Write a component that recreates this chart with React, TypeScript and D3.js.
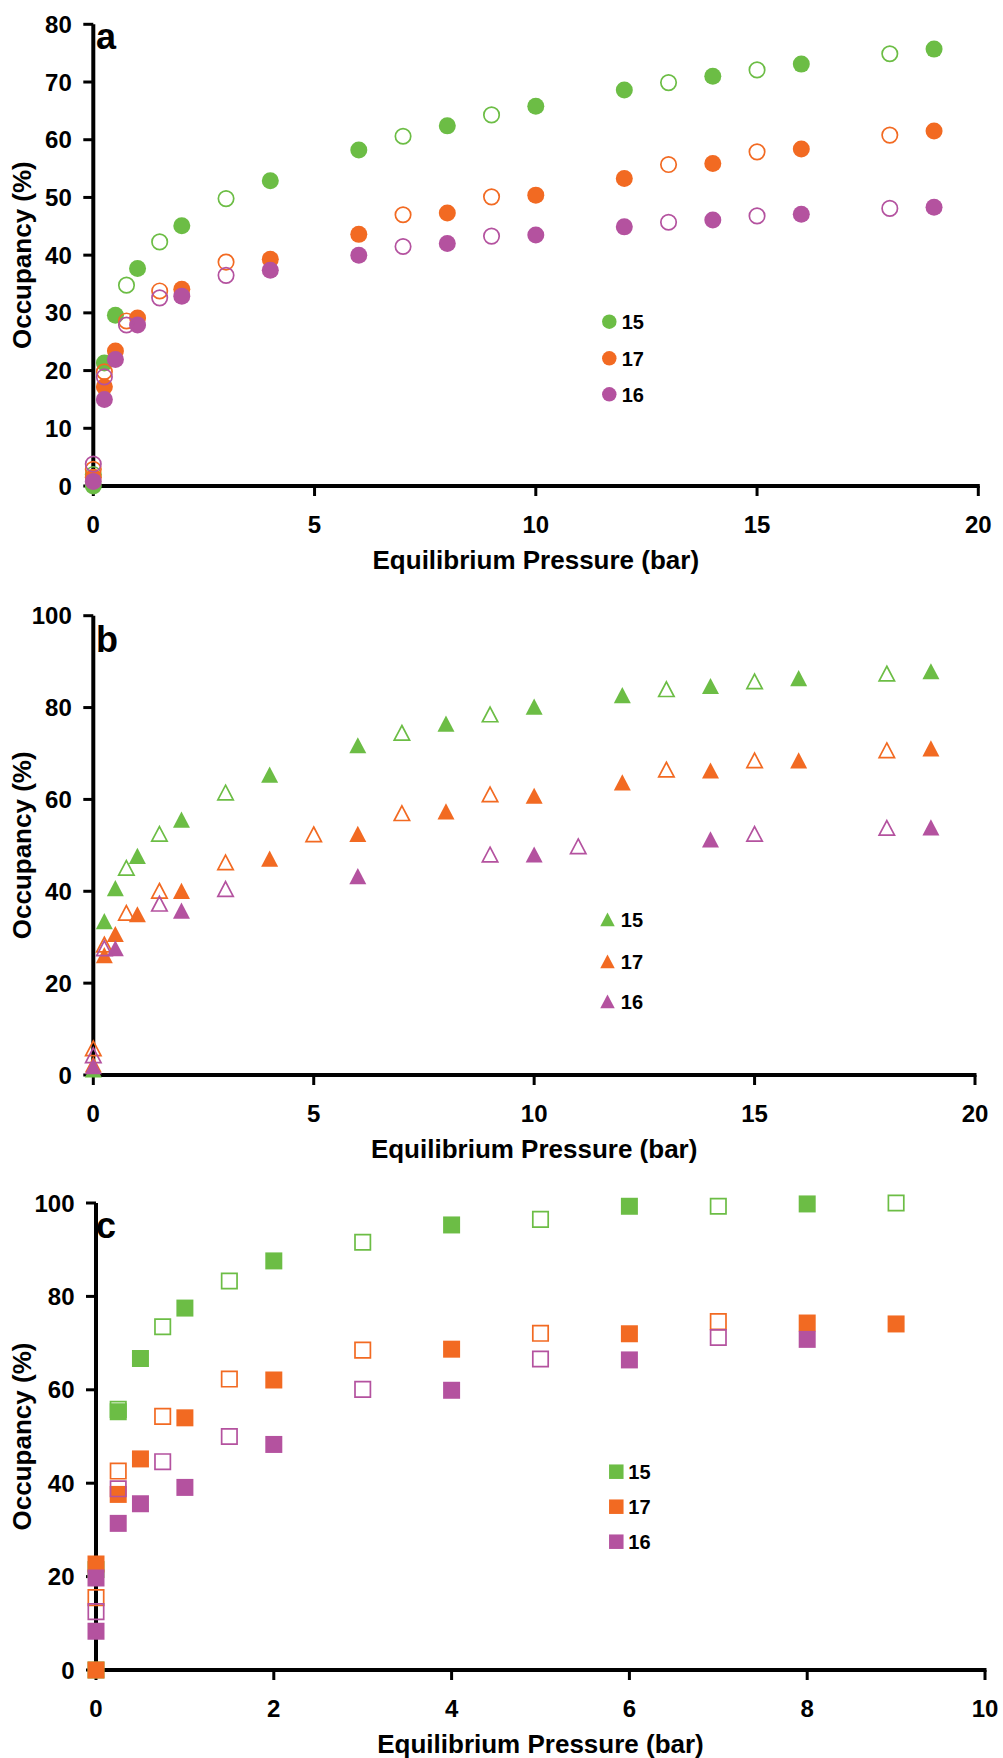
import React from 'react';
import * as d3 from 'd3';

type Pt = [number, number];

const GREEN = '#6cbd45';
const ORANGE = '#f26a22';
const PURPLE = '#b4529f';

const legendLabels = ['15', '17', '16'];
const xTitle = 'Equilibrium Pressure (bar)';
const yTitle = 'Occupancy (%)';

// Panel a (circles)
const aGreenFilled: Pt[] = [[0, 0], [0.25, 21.3], [0.5, 29.6], [1, 37.7], [2, 45.1], [4, 52.9], [6, 58.2], [8, 62.4], [10, 65.8], [12, 68.6], [14, 71.0], [16, 73.1], [19, 75.7]];
const aGreenOpen: Pt[] = [[0, 2.0], [0.75, 34.8], [1.5, 42.3], [3, 49.8], [7, 60.6], [9, 64.3], [13, 69.9], [15, 72.1], [18, 74.9]];
const aOrangeFilled: Pt[] = [[0, 1.5], [0.25, 17.2], [0.5, 23.4], [1, 29.1], [2, 34.1], [4, 39.3], [6, 43.6], [8, 47.3], [10, 50.4], [12, 53.3], [14, 55.9], [16, 58.4], [19, 61.5]];
const aOrangeOpen: Pt[] = [[0, 2.9], [0.25, 19.8], [0.75, 28.6], [1.5, 33.8], [3, 38.8], [7, 47.0], [9, 50.1], [13, 55.7], [15, 57.9], [18, 60.8]];
const aPurpleFilled: Pt[] = [[0, 0.8], [0.25, 15.0], [0.5, 21.9], [1, 27.9], [2, 32.9], [4, 37.4], [6, 40.0], [8, 42.0], [10, 43.5], [12, 44.9], [14, 46.1], [16, 47.1], [19, 48.3]];
const aPurpleOpen: Pt[] = [[0, 3.8], [0.25, 18.9], [0.75, 27.9], [1.5, 32.6], [3, 36.5], [7, 41.5], [9, 43.3], [13, 45.7], [15, 46.8], [18, 48.1]];

// Panel b (triangles)
const bGreenFilled: Pt[] = [[0, 1.2], [0.25, 33.5], [0.5, 40.7], [1, 47.7], [2, 55.6], [4, 65.4], [6, 71.8], [8, 76.5], [10, 80.2], [12, 82.7], [14, 84.7], [16, 86.4], [19, 87.9]];
const bGreenOpen: Pt[] = [[0.75, 45.1], [1.5, 52.5], [3, 61.5], [7, 74.5], [9, 78.5], [13, 84.0], [15, 85.7], [18, 87.4]];
const bOrangeFilled: Pt[] = [[0, 2.3], [0.25, 26.1], [0.5, 30.7], [1, 35.0], [2, 40.1], [4, 47.1], [6, 52.5], [8, 57.4], [10, 60.8], [12, 63.7], [14, 66.3], [16, 68.5], [19, 71.1]];
const bOrangeOpen: Pt[] = [[0, 5.8], [0.25, 28.4], [0.75, 35.3], [1.5, 40.1], [3, 46.3], [5, 52.4], [7, 57.0], [9, 61.1], [13, 66.5], [15, 68.5], [18, 70.7]];
const bPurpleFilled: Pt[] = [[0, 1.9], [0.5, 27.6], [2, 35.8], [6, 43.3], [10, 48.0], [14, 51.3], [19, 53.9]];
const bPurpleOpen: Pt[] = [[0, 4.3], [0.25, 27.6], [1.5, 37.3], [3, 40.5], [9, 48.0], [11, 49.8], [15, 52.5], [18, 53.8]];

// Panel c (squares)
const cGreenFilled: Pt[] = [[0, 0], [0, 21.5], [0.25, 55.3], [0.5, 66.7], [1, 77.5], [2, 87.6], [4, 95.3], [6, 99.3], [8, 99.8]];
const cGreenOpen: Pt[] = [[0.25, 55.8], [0.75, 73.5], [1.5, 83.3], [3, 91.6], [5, 96.5], [7, 99.3], [9, 100]];
const cOrangeFilled: Pt[] = [[0, 0], [0, 22.7], [0.25, 37.6], [0.5, 45.2], [1, 54.0], [2, 62.1], [4, 68.7], [6, 72.0], [8, 74.3], [9, 74.1]];
const cOrangeOpen: Pt[] = [[0, 15.5], [0.25, 42.6], [0.75, 54.3], [1.5, 62.3], [3, 68.5], [5, 72.1], [7, 74.6]];
const cPurpleFilled: Pt[] = [[0, 8.3], [0, 19.7], [0.25, 31.4], [0.5, 35.6], [1, 39.1], [2, 48.3], [4, 59.9], [6, 66.4], [8, 70.8]];
const cPurpleOpen: Pt[] = [[0, 12.5], [0.25, 38.8], [0.75, 44.6], [1.5, 50.0], [3, 60.1], [5, 66.6], [7, 71.2]];

const abXTicks = [0, 5, 10, 15, 20];
const cXTicks = [0, 2, 4, 6, 8, 10];
const aYTicks = [0, 10, 20, 30, 40, 50, 60, 70, 80];
const bcYTicks = [0, 20, 40, 60, 80, 100];

const FONT = '"Liberation Sans", Arial, Helvetica, sans-serif';

// bbox-centred triangle
const triangleType: d3.SymbolType = {
  draw(ctx, size) {
    const w = Math.sqrt(size);
    const h = w * 0.95;
    ctx.moveTo(0, -h / 2);
    ctx.lineTo(w / 2, h / 2);
    ctx.lineTo(-w / 2, h / 2);
    ctx.closePath();
  },
};

type Shape = 'circle' | 'triangle' | 'square';

function symbolPath(shape: Shape, size: number): string {
  if (shape === 'circle') return d3.symbol().type(d3.symbolCircle).size(Math.PI * size * size / 4)() as string;
  if (shape === 'triangle') return d3.symbol().type(triangleType).size(size * size)() as string;
  return d3.symbol().type(d3.symbolSquare).size(size * size)() as string;
}

interface Series { data: Pt[]; color: string; filled: boolean }

interface PanelProps {
  letter: string;
  shape: Shape;
  xDomain: [number, number];
  xRange: [number, number];
  yDomain: [number, number];
  yRange: [number, number];
  xTicks: number[];
  yTicks: number[];
  series: Series[];
  legendX: number;
  legendYs: number[];
  legendTextX: number;
  letterY: number;
}

function Panel(p: PanelProps) {
  const x = d3.scaleLinear().domain(p.xDomain).range(p.xRange);
  const y = d3.scaleLinear().domain(p.yDomain).range(p.yRange);
  const x0 = x(p.xDomain[0]);
  const x1 = x(p.xDomain[1]);
  const y0 = y(p.yDomain[0]);
  const y1 = y(p.yDomain[1]);
  const markSize = 17;
  const filledPath = symbolPath(p.shape, markSize);
  const openPath = symbolPath(p.shape, markSize - 1.6);
  const legendPath = symbolPath(p.shape, 14.5);
  const legendColors = [GREEN, ORANGE, PURPLE];
  return (
    <g>
      <line x1={x0} x2={x0} y1={y1} y2={y0 + 2} stroke="#000" strokeWidth={4} />
      <line x1={x0 - 2} x2={x1 + 1.5} y1={y0} y2={y0} stroke="#000" strokeWidth={4} />
      {p.yTicks.map((t) => (
        <g key={'yt' + t}>
          <line x1={x0 - 10} x2={x0} y1={y(t)} y2={y(t)} stroke="#000" strokeWidth={3} />
          <text x={x0 - 21.5} y={y(t) + 8.6} textAnchor="end" fontFamily={FONT} fontWeight="bold" fontSize={24}>{t}</text>
        </g>
      ))}
      {p.xTicks.map((t) => (
        <g key={'xt' + t}>
          <line x1={x(t)} x2={x(t)} y1={y0} y2={y0 + 10} stroke="#000" strokeWidth={3} />
          <text x={x(t)} y={y0 + 47} textAnchor="middle" fontFamily={FONT} fontWeight="bold" fontSize={24}>{t}</text>
        </g>
      ))}
      <text x={(x0 + x1) / 2} y={y0 + 83} textAnchor="middle" fontFamily={FONT} fontWeight="bold" fontSize={26}>{xTitle}</text>
      <text transform={`translate(31,${(y0 + y1) / 2}) rotate(-90)`} textAnchor="middle" fontFamily={FONT} fontWeight="bold" fontSize={26}>{yTitle}</text>
      <text x={96} y={p.letterY} fontFamily={FONT} fontWeight="bold" fontSize={36}>{p.letter}</text>
      {p.series.map((s, i) => (
        <g key={'s' + i}>
          {s.data.map((d, j) => (
            <path
              key={j}
              d={s.filled ? filledPath : openPath}
              transform={`translate(${x(d[0])},${y(d[1])})`}
              fill={s.filled ? s.color : 'none'}
              stroke={s.filled ? 'none' : s.color}
              strokeWidth={s.filled ? 0 : 1.7}
            />
          ))}
        </g>
      ))}
      {legendLabels.map((lab, i) => (
        <g key={'lg' + i}>
          <path d={legendPath} transform={`translate(${p.legendX},${p.legendYs[i]})`} fill={legendColors[i]} />
          <text x={p.legendTextX} y={p.legendYs[i] + 7.2} fontFamily={FONT} fontWeight="bold" fontSize={20}>{lab}</text>
        </g>
      ))}
    </g>
  );
}

export default function App() {
  return (
    <svg width={1003} height={1758} style={{ position: 'absolute', left: 0, top: 0, background: '#fff' }}>
      <rect width={1003} height={1758} fill="#fff" />
      <Panel
        letter="a" shape="circle"
        xDomain={[0, 20]} xRange={[93.3, 978.3]}
        yDomain={[0, 80]} yRange={[486, 24.3]}
        xTicks={abXTicks} yTicks={aYTicks}
        series={[
          { data: aGreenFilled, color: GREEN, filled: true },
          { data: aGreenOpen, color: GREEN, filled: false },
          { data: aOrangeFilled, color: ORANGE, filled: true },
          { data: aOrangeOpen, color: ORANGE, filled: false },
          { data: aPurpleFilled, color: PURPLE, filled: true },
          { data: aPurpleOpen, color: PURPLE, filled: false },
        ]}
        legendX={609.3} legendYs={[321.7, 358.3, 394.3]} legendTextX={621.7} letterY={49}
      />
      <Panel
        letter="b" shape="triangle"
        xDomain={[0, 20]} xRange={[93.3, 975]}
        yDomain={[0, 100]} yRange={[1075, 615.7]}
        xTicks={abXTicks} yTicks={bcYTicks}
        series={[
          { data: bGreenFilled, color: GREEN, filled: true },
          { data: bGreenOpen, color: GREEN, filled: false },
          { data: bOrangeFilled, color: ORANGE, filled: true },
          { data: bOrangeOpen, color: ORANGE, filled: false },
          { data: bPurpleFilled, color: PURPLE, filled: true },
          { data: bPurpleOpen, color: PURPLE, filled: false },
        ]}
        legendX={607.5} legendYs={[919.3, 961.4, 1001.4]} legendTextX={620.8} letterY={652}
      />
      <Panel
        letter="c" shape="square"
        xDomain={[0, 10]} xRange={[96, 985]}
        yDomain={[0, 100]} yRange={[1670, 1203]}
        xTicks={cXTicks} yTicks={bcYTicks}
        series={[
          { data: cGreenFilled, color: GREEN, filled: true },
          { data: cGreenOpen, color: GREEN, filled: false },
          { data: cOrangeFilled, color: ORANGE, filled: true },
          { data: cOrangeOpen, color: ORANGE, filled: false },
          { data: cPurpleFilled, color: PURPLE, filled: true },
          { data: cPurpleOpen, color: PURPLE, filled: false },
        ]}
        legendX={616.3} legendYs={[1471.7, 1506.7, 1541.7]} legendTextX={628.3} letterY={1238}
      />
    </svg>
  );
}
